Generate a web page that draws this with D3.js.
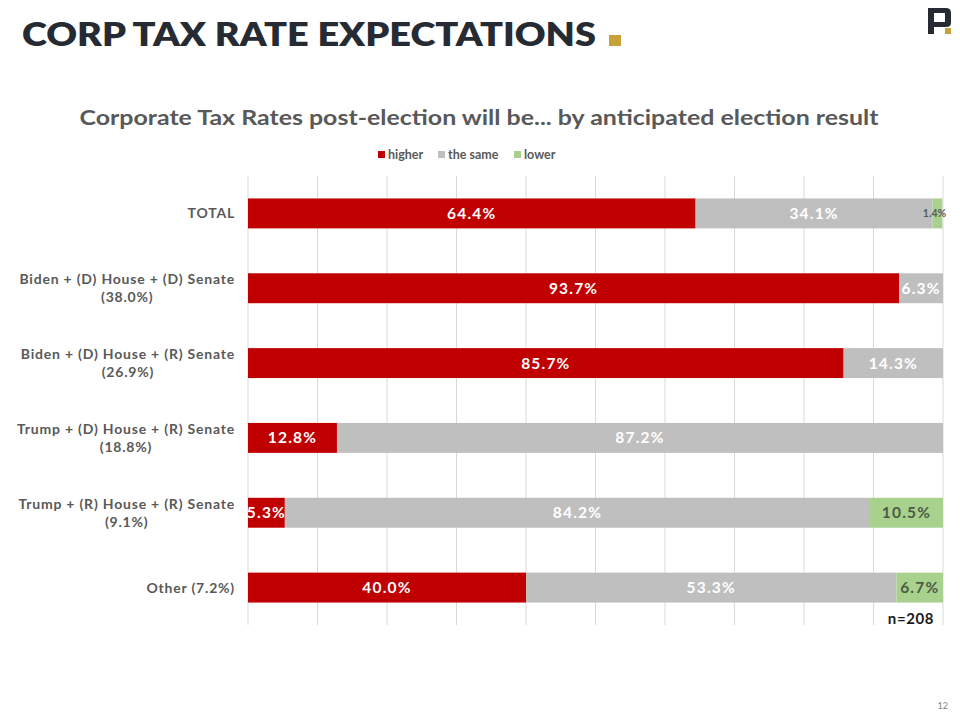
<!DOCTYPE html>
<html><head><meta charset="utf-8">
<script src="https://cdn.jsdelivr.net/npm/d3@7"></script>
<style>
html,body{margin:0;padding:0;background:#fff;}
svg{display:block;font-family:Lato,"Open Sans",sans-serif;}
</style></head>
<body><svg id="c" width="960" height="720"></svg>
<script>
const categories = [
  ["TOTAL"],
  ["Biden + (D) House + (D) Senate", "(38.0%)"],
  ["Biden + (D) House + (R) Senate", "(26.9%)"],
  ["Trump + (D) House + (R) Senate", "(18.8%)"],
  ["Trump + (R) House + (R) Senate", "(9.1%)"],
  ["Other (7.2%)"]
];
const seriesNames = ["higher", "the same", "lower"];
const higher = [64.4, 93.7, 85.7, 12.8, 5.3, 40.0];
const theSame = [34.1, 6.3, 14.3, 87.2, 84.2, 53.3];
const lower = [1.4, 0, 0, 0, 10.5, 6.7];
const xTicks = [0,10,20,30,40,50,60,70,80,90,100];

const colors = ["#C00000", "#BFBFBF", "#A9D18E"];
const labelColors = ["#ffffff", "#ffffff", "#4d5a44"];

const rows = categories.map((c,i)=>({i, higher:higher[i], "the same":theSame[i], lower:lower[i]}));
const stack = d3.stack().keys(seriesNames)(rows);

const svg = d3.select("#c");
const x = d3.scaleLinear().domain([0,100]).range([248,943]);
const y = d3.scaleBand().domain(d3.range(categories.length)).range([176,625]).paddingInner(0.6).paddingOuter(0.3);

// Title
svg.append("text").attr("x",22).attr("y",46).attr("font-size",32).attr("font-weight",800)
  .attr("fill","#262B33").attr("textLength",574).attr("lengthAdjust","spacingAndGlyphs")
  .text("CORP TAX RATE EXPECTATIONS");
svg.append("rect").attr("x",609).attr("y",35).attr("width",12).attr("height",11).attr("fill","#C9A13B");

// logo
const lg = svg.append("g");
lg.append("path").attr("d","M928,8 H946 Q951,8 951,13 V23 Q951,27 946,27 H934 V34 H928 Z M934,13 V22 H945 V13 Z")
  .attr("fill","#262B33").attr("fill-rule","evenodd");
lg.append("rect").attr("x",945).attr("y",28).attr("width",6).attr("height",6).attr("fill","#C9A13B");

// chart title
svg.append("text").attr("x",479).attr("y",125).attr("text-anchor","middle").attr("font-size",21)
  .attr("font-weight",700).attr("fill","#595959").attr("textLength",799).attr("lengthAdjust","spacingAndGlyphs")
  .text("Corporate Tax Rates post-election will be... by anticipated election result");

// legend
const legX = [378, 438, 514];
seriesNames.forEach((s,k)=>{
  const g = svg.append("g").attr("transform",`translate(${legX[k]},155)`);
  g.append("rect").attr("x",0).attr("y",-4).attr("width",7).attr("height",7).attr("fill",colors[k]);
  g.append("text").attr("x",10).attr("y",4).attr("font-size",12.5).attr("font-weight",700).attr("fill","#595959").text(s);
});

// grid
svg.append("g").selectAll("line").data(xTicks).join("line")
  .attr("x1",d=>x(d)).attr("x2",d=>x(d)).attr("y1",176).attr("y2",625)
  .attr("stroke","#D9D9D9").attr("stroke-width",1);

// bars
const layers = svg.append("g").selectAll("g").data(stack).join("g").attr("fill",(d,k)=>colors[k]);
layers.selectAll("rect").data(d=>d).join("rect")
  .attr("x",d=>x(d[0])).attr("width",d=>x(d[1])-x(d[0]))
  .attr("y",d=>y(d.data.i)).attr("height",y.bandwidth());

// value labels
stack.forEach((layer,k)=>{
  layer.forEach(d=>{
    const v = d[1]-d[0];
    if (v <= 0) return;
    const small = v < 3;
    svg.append("text")
      .attr("x",(x(d[0])+x(d[1]))/2 + (small?-3:0))
      .attr("y",y(d.data.i)+y.bandwidth()/2)
      .attr("dy","0.36em").attr("text-anchor","middle")
      .attr("font-size",small?10.5:15.5).attr("font-weight",700)
      .attr("letter-spacing",small?0:1.2)
      .attr("fill",small?"#595959":labelColors[k])
      .text(d3.format(".1f")(v)+"%");
  });
});

// category labels
categories.forEach((c,i)=>{
  const cy = y(i)+y.bandwidth()/2;
  const g = svg.append("g").attr("font-size",14).attr("font-weight",700).attr("fill","#595959").attr("letter-spacing",0.8);
  if (c.length===1){
    g.append("text").attr("x",235).attr("text-anchor","end").attr("y",cy).attr("dy","0.36em").text(c[0]);
  } else {
    const t1 = g.append("text").attr("x",235).attr("text-anchor","end").attr("y",cy-9).attr("dy","0.36em").text(c[0]);
    const w = t1.node().getComputedTextLength();
    g.append("text").attr("x",235 - w/2).attr("text-anchor","middle").attr("y",cy+9).attr("dy","0.36em").text(c[1]);
  }
});

// n
svg.append("text").attr("x",911).attr("y",624).attr("text-anchor","middle").attr("font-size",15).attr("font-weight",700).attr("letter-spacing",0.6).attr("fill","#1a1a1a").text("n=208");
// page number
svg.append("text").attr("x",948).attr("y",709).attr("text-anchor","end").attr("font-size",9).attr("fill","#7f7f7f").text("12");
</script></body></html>
